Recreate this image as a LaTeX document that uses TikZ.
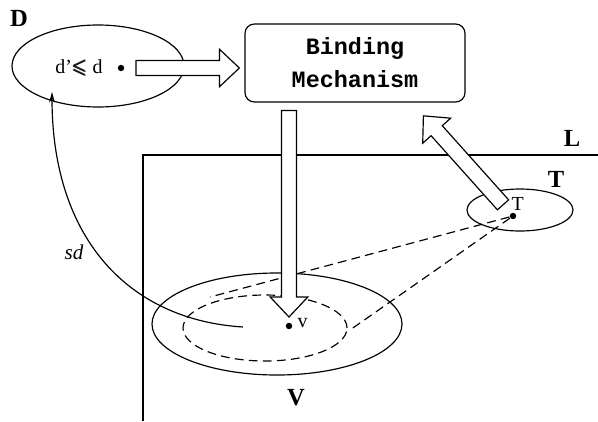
\documentclass[tikz,border=0pt]{standalone}
\usepackage{amsmath}
\usepackage{amssymb}
\usepackage{fontspec}
\setmainfont{Liberation Serif}
\setmonofont{Liberation Mono}
\usepackage{tikz}
\usetikzlibrary{arrows.meta,positioning,shapes.geometric,calc}

\def\shaftw{6.4pt}
\def\headw{16pt}
\def\headl{17pt}
% wide outlined arrow: from, to, gap at tail, gap at tip
\newcommand{\hollowarrow}[4]{%
  \draw[hollow] let \p1=($(#2)-(#1)$), \n1={atan2(\y1,\x1)}, \n2={veclen(\x1,\y1)-#4} in
    [shift={(#1)}, rotate=\n1]
    (#3,-\shaftw) -- (\n2-\headl,-\shaftw) -- (\n2-\headl,-\headw) -- (\n2,0pt)
    -- (\n2-\headl,\headw) -- (\n2-\headl,\shaftw) -- (#3,\shaftw) -- cycle;}

\begin{document}
\begin{tikzpicture}[
  x=0.03cm, y=-0.03cm,
  line width=1pt,
  region/.style={
    ellipse,
    draw,
    inner sep=0pt
  },
  innerdash/.style={dash pattern=on 7.5pt off 4.5pt},
  mech/.style={
    rectangle,
    rounded corners=8pt,
    draw,
    align=center,
    minimum width=6.6cm,
    minimum height=2.34cm,
    font=\ttfamily\bfseries\fontsize{20}{28}\selectfont
  },
  bigtag/.style={font=\bfseries\fontsize{21}{24}\selectfont, inner sep=0pt},
  smalltxt/.style={font=\fontsize{17}{20}\selectfont, inner sep=0pt},
  spot/.style={circle, fill, inner sep=0pt, minimum size=5.5pt},
  hollow/.style={draw, fill=white, line join=miter},
  sdarrow/.style={-{Stealth[length=9pt,width=5pt]}}
]
  \useasboundingbox (0,0) rectangle (598,421);

  % frame L
  \draw (143,421) -- (143,155) -- (598,155);

  \node[region, minimum width=5.16cm, minimum height=2.46cm] (dom)  at (98,66)   {};
  \node[mech]                                                 (bind) at (355,63)  {Binding\\Mechanism};
  \node[region, minimum width=7.5cm, minimum height=3.06cm]   (vset) at (277,324) {};
  \node[region, innerdash, minimum width=4.92cm, minimum height=1.98cm] (vin) at (265,328) {};
  \node[region, minimum width=3.18cm, minimum height=1.26cm]  (tset) at (520,210) {};

  \node[bigtag, anchor=base] (dlab) at (19,26)   {D};
  \node[bigtag, anchor=base] (llab) at (572,146) {L};
  \node[bigtag, anchor=base] (tlab) at (556,187) {T};
  \node[bigtag, anchor=base] (vlab) at (296,405) {V};

  \node[smalltxt, anchor=base]      (dtxt) at (79,73)   {d'$\pmb{\leqslant}$ d};
  \node[smalltxt, anchor=base west] (vtxt) at (297,327) {v};
  \node[smalltxt, anchor=base west] (ttxt) at (511,210) {T};
  \node[smalltxt, anchor=base, font=\itshape\fontsize{18}{21}\selectfont] (sdtxt) at (74,259) {sd};

  \coordinate (cone1)   at (210,297);
  \coordinate (cone2)   at (350,330);
  \coordinate (sdstart) at (243,327);
  \coordinate (dend)    at (52,92);

  \node[spot] (dpt) at (121,68)  {};
  \node[spot] (vpt) at (289,326) {};
  \node[spot] (tpt) at (513,216) {};

  \draw[innerdash] (tpt) -- (cone1);
  \draw[innerdash] (tpt) -- (cone2);
  \draw[sdarrow] (sdstart) .. controls (130,320) and (52,240) .. (dend);

  \hollowarrow{dpt}{bind.west |- dpt}{12.8pt}{4.3pt}
  \hollowarrow{bind.south -| vpt}{vpt}{6.8pt}{7.7pt}
  \hollowarrow{tpt}{bind.-35}{12.8pt}{15pt}
\end{tikzpicture}
\end{document}
